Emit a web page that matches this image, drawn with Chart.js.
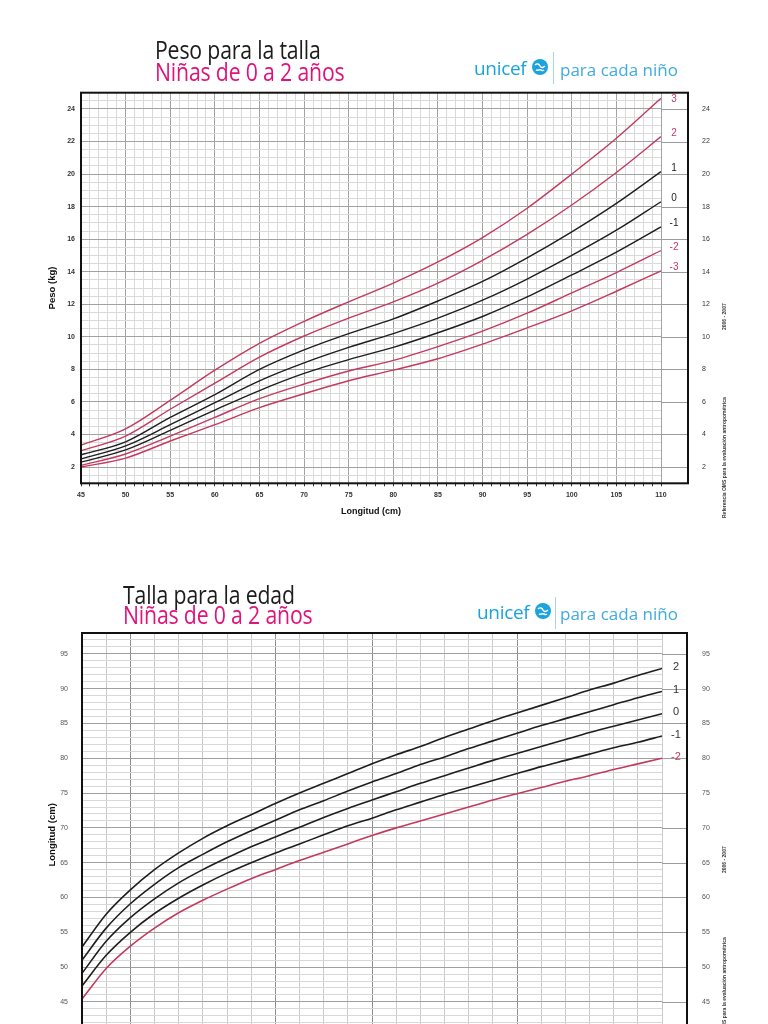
<!DOCTYPE html>
<html><head><meta charset="utf-8">
<script src="https://cdn.jsdelivr.net/npm/chart.js@4.4.1/dist/chart.umd.min.js"></script>
<style>
html,body{margin:0;padding:0;width:768px;height:1024px;overflow:hidden;background:#fff;}
canvas{position:absolute;left:0;}
#c1{top:0;}
#c2{top:580px;}
.t{position:absolute;font-family:'Open Sans',sans-serif;font-size:25px;line-height:25px;white-space:nowrap;transform:scaleX(0.85);transform-origin:0 0;letter-spacing:-0.2px;z-index:2}
.blk{color:#1c1c1c}
.mag{color:#e0137b}
.uni{position:absolute;font-family:'Open Sans',sans-serif;font-size:19px;line-height:19px;color:#1ba3dd;white-space:nowrap;letter-spacing:-0.3px;z-index:2}
.pcn{position:absolute;font-family:'Open Sans',sans-serif;font-size:17px;line-height:17px;color:#40abe0;white-space:nowrap;z-index:2}
.sep{position:absolute;width:1px;background:#a9d6ef;z-index:2}
.glb{position:absolute;z-index:2}
.rot{position:absolute;font-family:'Liberation Sans',Arial,sans-serif;font-size:5px;line-height:6px;color:#333;white-space:nowrap;transform:rotate(-90deg);transform-origin:0 0;font-weight:bold;z-index:2}
</style>
</head><body>
<canvas id="c1" width="768" height="530"></canvas>
<canvas id="c2" width="768" height="500"></canvas>

<div class="t blk" style="left:155px;top:37px">Peso para la talla</div>
<div class="t mag" style="left:155px;top:59px">Niñas de 0 a 2 años</div>
<div class="uni" style="left:474px;top:59px">unicef</div>
<svg class="glb" style="left:531px;top:58px" width="18" height="18" viewBox="0 0 18 18"><circle cx="9" cy="9" r="8" fill="#1ba3dd"/><path d="M4 7c2-2 4-1 5 1s3 2 5 0M5 12c2 1 3-1 5 0s2 1 3 0" stroke="#fff" stroke-width="1.4" fill="none"/></svg>
<div class="sep" style="left:553px;top:52px;height:32px"></div>
<div class="pcn" style="left:560px;top:61px">para cada niño</div>
<div class="rot" style="left:721px;top:330px">2006 - 2007</div>
<div class="rot" style="left:721px;top:518px">Referencia OMS para la evaluación antropométrica</div>

<div class="t blk" style="left:123px;top:582px">Talla para la edad</div>
<div class="t mag" style="left:123px;top:602px">Niñas de 0 a 2 años</div>
<div class="uni" style="left:477px;top:603px">unicef</div>
<svg class="glb" style="left:534px;top:602px" width="18" height="18" viewBox="0 0 18 18"><circle cx="9" cy="9" r="8" fill="#1ba3dd"/><path d="M4 7c2-2 4-1 5 1s3 2 5 0M5 12c2 1 3-1 5 0s2 1 3 0" stroke="#fff" stroke-width="1.4" fill="none"/></svg>
<div class="sep" style="left:555px;top:597px;height:32px"></div>
<div class="pcn" style="left:560px;top:605px">para cada niño</div>
<div class="rot" style="left:721px;top:873px">2006 - 2007</div>
<div class="rot" style="left:721px;top:1058px">Referencia OMS para la evaluación antropométrica</div>

<script>
// ---------- Data: Peso para la talla (niñas) ----------
const pesoLongitud = [45,50,55,60,65,70,75,80,85,90,95,100,105,110];
const pesoSDm3 = [2.0,2.55,3.6,4.6,5.65,6.5,7.3,7.95,8.65,9.55,10.55,11.6,12.8,14.05];
const pesoSDm2 = [2.1,2.8,3.9,5.05,6.2,7.1,7.9,8.55,9.4,10.35,11.45,12.7,13.95,15.3];
const pesoSDm1 = [2.3,3.05,4.25,5.5,6.7,7.75,8.6,9.35,10.25,11.25,12.45,13.8,15.2,16.75];
const pesoSD0  = [2.5,3.3,4.6,5.95,7.3,8.4,9.35,10.2,11.15,12.25,13.55,15.0,16.55,18.3];
const pesoSD1  = [2.75,3.55,5.05,6.45,8.0,9.2,10.2,11.1,12.2,13.4,14.85,16.45,18.2,20.15];
const pesoSD2  = [3.0,3.9,5.55,7.15,8.75,10.05,11.15,12.15,13.3,14.7,16.3,18.1,20.1,22.3];
const pesoSD3  = [3.35,4.35,6.1,7.95,9.6,10.95,12.15,13.3,14.6,16.1,17.9,20.0,22.2,24.65];

// ---------- Data: Talla para la edad (niñas) ----------
const tallaMeses = [0,1,2,3,4,5,6,7,8,9,10,11,12,13,14,15,16,17,18,19,20,21,22,23,24];
const tallaSDm2 = [45.4,49.8,53.0,55.6,57.8,59.6,61.2,62.7,64.0,65.3,66.5,67.7,68.9,70.0,71.0,72.0,73.0,74.0,74.9,75.8,76.7,77.5,78.4,79.2,80.0];
const tallaSDm1 = [47.3,51.7,55.0,57.7,59.9,61.8,63.5,65.0,66.4,67.7,69.0,70.3,71.4,72.6,73.7,74.8,75.8,76.8,77.8,78.8,79.7,80.6,81.5,82.3,83.2];
const tallaSD0  = [49.1,53.7,57.1,59.8,62.1,64.0,65.7,67.3,68.7,70.1,71.5,72.8,74.0,75.2,76.4,77.5,78.6,79.7,80.7,81.7,82.7,83.7,84.6,85.5,86.4];
const tallaSD1  = [51.0,55.6,59.1,61.9,64.3,66.2,68.0,69.6,71.1,72.6,73.9,75.3,76.6,77.8,79.1,80.2,81.4,82.5,83.6,84.7,85.7,86.7,87.7,88.7,89.6];
const tallaSD2  = [52.9,57.6,61.1,64.0,66.4,68.5,70.3,71.9,73.5,75.0,76.4,77.8,79.2,80.5,81.7,83.0,84.2,85.4,86.5,87.6,88.7,89.8,90.8,91.9,92.9];

// Tick / grid definitions
const pesoMarcasY = [2,4,6,8,10,12,14,16,18,20,22,24];
const tallaMarcasY = [45,50,55,60,65,70,75,80,85,90,95];
const tallaMesesFuertes = [2,8,12,18];

const RED = '#c43a5f', BLK = '#1e1e1e';
const FONT = "'Liberation Sans', Arial, sans-serif";

function serie(label, xs, ys, color, labelColor, w) {
  return { label, data: xs.map((x, i) => ({x, y: ys[i]})), borderColor: color, borderWidth: w,
    pointRadius: 0, fill: false, cubicInterpolationMode: 'monotone', labelColor };
}

const framePlugin = {
  id: 'frame',
  beforeDatasetsDraw(chart, args, o) {
    const {ctx, chartArea: a} = chart;
    const y = chart.scales.y;
    ctx.save();
    ctx.strokeStyle = o.majorColor; ctx.lineWidth = 1;
    o.majors.forEach(v => {
      if (v < y.min || v > y.max) return;
      const py = Math.round(y.getPixelForValue(v)) + 0.5;
      ctx.beginPath(); ctx.moveTo(a.right, py); ctx.lineTo(a.right + o.extra, py); ctx.stroke();
    });
    ctx.restore();
  },
  afterDraw(chart, args, o) {
    const {ctx, chartArea: a} = chart;
    const y = chart.scales.y;
    ctx.save();
    ctx.strokeStyle = '#111'; ctx.lineWidth = 2;
    ctx.strokeRect(a.left, a.top, a.right + o.extra - a.left, a.bottom - a.top);
    ctx.font = o.labelFont; ctx.textAlign = 'center'; ctx.textBaseline = 'middle';
    chart.data.datasets.forEach(ds => {
      const last = ds.data[ds.data.length - 1];
      ctx.fillStyle = ds.labelColor;
      const py = Math.max(a.top + 7, y.getPixelForValue(last.y) + o.labelDy);
      ctx.fillText(ds.label, a.right + o.labelDx, py);
    });
    ctx.restore();
  }
};

// ---------- Chart 1 ----------
new Chart(document.getElementById('c1'), {
  type: 'line',
  data: { datasets: [
    serie('3', pesoLongitud, pesoSD3, RED, RED, 1.4),
    serie('2', pesoLongitud, pesoSD2, RED, RED, 1.4),
    serie('1', pesoLongitud, pesoSD1, BLK, '#222', 1.4),
    serie('0', pesoLongitud, pesoSD0, BLK, '#222', 1.4),
    serie('-1', pesoLongitud, pesoSDm1, BLK, '#222', 1.4),
    serie('-2', pesoLongitud, pesoSDm2, RED, RED, 1.4),
    serie('-3', pesoLongitud, pesoSDm3, RED, RED, 1.4)
  ]},
  options: {
    responsive: false, animation: false, events: [],
    layout: { padding: { left: 40, right: 0, top: 92.7, bottom: 6.7 } },
    plugins: { legend: { display: false }, tooltip: { enabled: false },
      frame: { extra: 27, majors: pesoMarcasY, majorColor: '#9c9c9c', labelFont: '10px ' + FONT, labelDx: 13, labelDy: -3.5 } },
    scales: {
      x: { type: 'linear', min: pesoLongitud[0], max: pesoLongitud[pesoLongitud.length - 1],
        afterFit: s => { s.height = 40; },
        border: { display: false },
        grid: { color: c => (c.tick && c.tick.value % 5 === 0) ? '#a3a3a3' : '#dadada', lineWidth: 1,
          drawTicks: true, tickLength: 3, tickColor: '#333' },
        ticks: { stepSize: 1, autoSkip: false, maxTicksLimit: 1000, maxRotation: 0, padding: 5,
          color: '#333', font: { size: 7, family: FONT, weight: 'bold' },
          callback: v => (v % 5 === 0 ? String(v) : '') },
        title: { display: true, text: 'Longitud (cm)', color: '#111',
          font: { size: 9, family: FONT, weight: 'bold' }, padding: { top: 0, bottom: 6 } } },
      y: { position: 'left', min: 1, max: 25,
        afterFit: s => { s.width = 41; },
        border: { display: false },
        grid: { color: c => (c.tick && pesoMarcasY.includes(c.tick.value)) ? '#a3a3a3' : '#dadada', lineWidth: 1, drawTicks: false },
        ticks: { stepSize: 0.5, autoSkip: false, maxTicksLimit: 1000, padding: 6, color: '#333',
          font: { size: 7, family: FONT, weight: 'bold' },
          callback: v => (pesoMarcasY.includes(v) ? String(v) : '') },
        title: { display: true, text: 'Peso (kg)', color: '#111',
          font: { size: 9.5, family: FONT, weight: 'bold' }, padding: { top: 7, bottom: 0 } } },
      y2: { position: 'right', min: 1, max: 25,
        afterFit: s => { s.width = 107; },
        border: { display: false }, grid: { display: false },
        ticks: { stepSize: 0.5, autoSkip: false, maxTicksLimit: 1000, padding: 33, color: '#333',
          font: { size: 7, family: FONT },
          callback: v => (pesoMarcasY.includes(v) ? String(v) : '') } }
    }
  },
  plugins: [framePlugin]
});

// ---------- Chart 2 ----------
new Chart(document.getElementById('c2'), {
  type: 'line',
  data: { datasets: [
    serie('2', tallaMeses, tallaSD2, BLK, '#333', 1.6),
    serie('1', tallaMeses, tallaSD1, BLK, '#333', 1.6),
    serie('0', tallaMeses, tallaSD0, BLK, '#333', 1.6),
    serie('-1', tallaMeses, tallaSDm1, BLK, '#333', 1.6),
    serie('-2', tallaMeses, tallaSDm2, RED, RED, 1.6)
  ]},
  options: {
    responsive: false, animation: false, events: [],
    layout: { padding: { left: 40, right: 0, top: 53, bottom: 3.3 } },
    plugins: { legend: { display: false }, tooltip: { enabled: false },
      frame: { extra: 25, majors: tallaMarcasY, majorColor: '#9c9c9c', labelFont: '11px ' + FONT, labelDx: 14, labelDy: -1.5 } },
    scales: {
      x: { type: 'linear', min: tallaMeses[0], max: tallaMeses[tallaMeses.length - 1],
        afterFit: s => { s.height = 40; },
        border: { display: false },
        grid: { color: c => (c.tick && tallaMesesFuertes.includes(c.tick.value)) ? '#8e8e8e' : '#cbcbcb', lineWidth: 1, drawTicks: false },
        ticks: { stepSize: 1, autoSkip: false, maxTicksLimit: 1000, maxRotation: 0, color: '#555',
          font: { size: 7, family: FONT }, callback: v => '' } },
      y: { position: 'left', min: 40, max: 98,
        afterFit: s => { s.width = 42; },
        border: { display: false },
        grid: { color: c => (c.tick && c.tick.value % 5 === 0) ? '#a0a0a0' : '#d8d8d8', lineWidth: 1, drawTicks: false },
        ticks: { stepSize: 1, autoSkip: false, maxTicksLimit: 1000, padding: 14, color: '#555',
          font: { size: 7, family: FONT },
          callback: v => (tallaMarcasY.includes(v) ? String(v) : '') },
        title: { display: true, text: 'Longitud (cm)', color: '#111',
          font: { size: 9.5, family: FONT, weight: 'bold' }, padding: { top: 7, bottom: 0 } } },
      y2: { position: 'right', min: 40, max: 98,
        afterFit: s => { s.width = 106; },
        border: { display: false }, grid: { display: false },
        ticks: { stepSize: 1, autoSkip: false, maxTicksLimit: 1000, padding: 32, color: '#555',
          font: { size: 7, family: FONT },
          callback: v => (tallaMarcasY.includes(v) ? String(v) : '') } }
    }
  },
  plugins: [framePlugin]
});
</script>
</body></html>
